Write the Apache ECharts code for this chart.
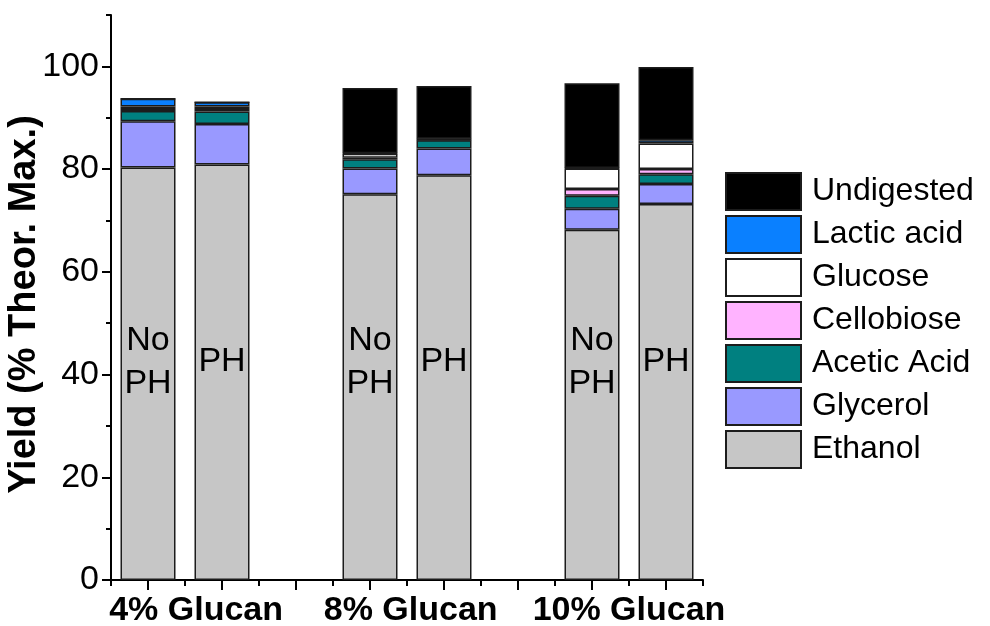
<!DOCTYPE html>
<html>
<head>
<meta charset="utf-8">
<script src="https://cdn.jsdelivr.net/npm/echarts@6/dist/echarts.min.js"></script>
<style>
  html, body { margin: 0; padding: 0; background: #fff; }
  #chart { width: 990px; height: 626px; }
</style>
</head>
<body>
<div id="chart"></div>
<script>
// Bar slots along the x axis (empty slots are the gaps between loadings)
const slots = ['4% No PH', '4% PH', '', '8% No PH', '8% PH', '', '10% No PH', '10% PH'];
const barTags = ['No\nPH', 'PH', '', 'No\nPH', 'PH', '', 'No\nPH', 'PH'];
const groupLabels = ['4% Glucan', '8% Glucan', '10% Glucan'];
const groupCenters = [1.65, 4.55, 7.5];

// Yields, % of theoretical maximum
const ethanol    = [80.3, 80.9, null, 75.1, 78.8, null, 68.2, 73.2];
const glycerol   = [9.0,  7.9,  null, 5.0,  5.2,  null, 4.1,  3.9];
const aceticAcid = [2.0,  2.4,  null, 1.8,  1.6,  null, 2.5,  1.9];
const cellobiose = [0.4,  0.5,  null, 0.3,  0.1,  null, 1.3,  1.0];
const glucose    = [0.5,  0.5,  null, 0.8,  0.1,  null, 4.0,  5.0];
const lacticAcid = [1.5,  0.8,  null, 0.1,  0.1,  null, 0.1,  0.6];
const undigested = [0,    0,    null, 12.7, 10.3, null, 16.5, 14.3];

// Tick values
const yMajorTicks = [0, 20, 40, 60, 80, 100];
const yMinorTicks = [10, 30, 50, 70, 90, 110];
const xMajorTicks = [1, 2, 3, 4, 5, 6, 7, 8];
const xMinorTicks = [0.5, 1.5, 2.5, 3.5, 4.5, 5.5, 6.5, 7.5, 8.5];

const FONT = "'Liberation Sans', Arial, sans-serif";
const TAG_LEVEL = 42.5;

const stackDefs = [
  { name: 'Ethanol',     data: ethanol,    color: '#c6c6c6' },
  { name: 'Glycerol',    data: glycerol,   color: '#9999ff' },
  { name: 'Acetic Acid', data: aceticAcid, color: '#008080' },
  { name: 'Cellobiose',  data: cellobiose, color: '#ffb3ff' },
  { name: 'Glucose',     data: glucose,    color: '#ffffff' },
  { name: 'Lactic acid', data: lacticAcid, color: '#0a80ff' },
  { name: 'Undigested',  data: undigested, color: '#000000' }
];

const barSeries = stackDefs.map(d => ({
  name: d.name,
  type: 'bar',
  stack: 'total',
  xAxisIndex: 0,
  yAxisIndex: 0,
  barWidth: 55,
  data: d.data.map(v => (v === null ? '-' : v)),
  itemStyle: { color: d.color, borderColor: '#1c1c1c', borderWidth: 1.5 },
  emphasis: { disabled: true },
  animation: false
}));

// "No PH" / "PH" tags written across the ethanol segments
const tagSeries = {
  type: 'scatter',
  xAxisIndex: 0,
  yAxisIndex: 0,
  symbolSize: 0,
  silent: true,
  animation: false,
  itemStyle: { opacity: 1 },
  data: barTags.map((t, i) => [i, TAG_LEVEL]).filter((p, i) => barTags[i] !== ''),
  label: {
    show: true,
    position: 'inside',
    formatter: p => barTags[p.data[0]],
    fontFamily: FONT,
    fontSize: 34,
    lineHeight: 43,
    color: '#000',
    opacity: 1,
    align: 'center',
    verticalAlign: 'middle'
  },
  z: 10
};

const chart = echarts.init(document.getElementById('chart'), null, { renderer: 'canvas' });
chart.setOption({
  backgroundColor: '#ffffff',
  animation: false,
  grid: { left: 111, right: 287, top: 15, bottom: 46, containLabel: false, outerBoundsMode: 'none' },
  legend: {
    orient: 'vertical',
    left: 725,
    top: 172,
    padding: 0,
    itemWidth: 75,
    itemHeight: 37,
    itemGap: 4,
    icon: 'rect',
    selectedMode: false,
    data: stackDefs.map(d => d.name).reverse(),
    textStyle: { fontFamily: FONT, fontSize: 32, lineHeight: 37, color: '#000', padding: [0, 0, 0, 6] }
  },
  xAxis: [
    { type: 'category', data: slots, show: false, boundaryGap: true },
    {
      type: 'value', min: 0.5, max: 8.5, position: 'bottom',
      axisLine: { show: true, lineStyle: { color: '#000', width: 2 } },
      axisTick: { show: true, customValues: xMajorTicks, length: 10, lineStyle: { color: '#000', width: 2 } },
      axisLabel: {
        show: true, customValues: groupCenters,
        formatter: v => groupLabels[groupCenters.indexOf(v)] || '',
        fontFamily: FONT, fontSize: 34, fontWeight: 'bold', color: '#000', margin: 14
      },
      splitLine: { show: false }
    },
    {
      type: 'value', min: 0.5, max: 8.5, position: 'bottom',
      axisLine: { show: false },
      axisTick: { show: true, customValues: xMinorTicks, length: 6, lineStyle: { color: '#000', width: 2 } },
      axisLabel: { show: false },
      splitLine: { show: false }
    }
  ],
  yAxis: [
    {
      type: 'value', min: 0, max: 110, position: 'left',
      name: 'Yield (% Theor. Max.)', nameLocation: 'middle', nameGap: 67, nameMoveOverlap: false,
      nameTextStyle: { fontFamily: FONT, fontSize: 38, fontWeight: 'bold', color: '#000', padding: [0, 14, 0, 0] },
      axisLine: { show: true, lineStyle: { color: '#000', width: 2 } },
      axisTick: { show: true, customValues: yMajorTicks, length: 9, lineStyle: { color: '#000', width: 2 } },
      axisLabel: { show: true, customValues: yMajorTicks, fontFamily: FONT, fontSize: 34, color: '#000', margin: 12 },
      splitLine: { show: false }
    },
    {
      type: 'value', min: 0, max: 110, position: 'left',
      axisLine: { show: false },
      axisTick: { show: true, customValues: yMinorTicks, length: 5, lineStyle: { color: '#000', width: 2 } },
      axisLabel: { show: false },
      splitLine: { show: false }
    }
  ],
  series: barSeries.concat([tagSeries])
});
</script>
</body>
</html>
